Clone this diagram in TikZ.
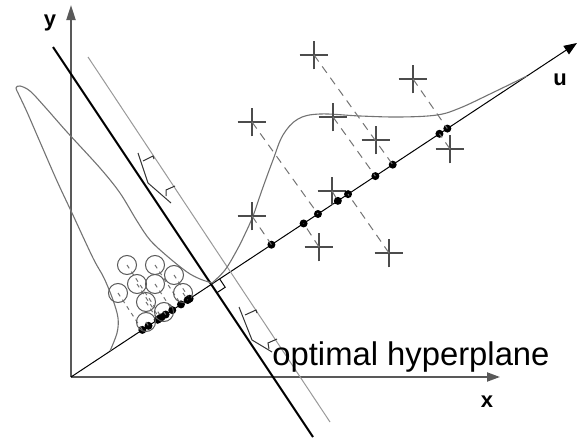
\documentclass[tikz,border=0pt]{standalone}
\usepackage{fontspec}
\setmainfont{Liberation Sans}
\usetikzlibrary{arrows.meta,calc,shapes.misc}

\begin{document}
\begin{tikzpicture}[x=.5pt,y=-.5pt,
  axisline/.style={black!65,line width=1pt},
  dens/.style={black!55,line width=.55pt},
  proj/.style={black!55,line width=.5pt,dash pattern=on 4pt off 3pt},
  plus/.style={cross out,draw=black!70,line width=.6pt,rotate=45,minimum size=9.5pt,inner sep=0pt},
  circ/.style={circle,draw=black!65,line width=.5pt,minimum size=9.5pt,inner sep=0pt},
  dot/.style={circle,fill=black,minimum size=4pt,inner sep=0pt},
  marg/.style={black!80,line width=.5pt},
  lab/.style={font=\fontsize{11}{13}\selectfont\bfseries,anchor=base}]
\useasboundingbox (0,0) rectangle (579,439);
% axes and the u direction
\coordinate (O) at (71,377);
\coordinate (Y) at (71,5);
\coordinate (X) at (500,377);
\coordinate (U) at (577,43);
\draw[axisline,-{Triangle[length=7.5pt,width=4.5pt]}] (O) -- (Y);
\draw[axisline,-{Triangle[length=6.5pt,width=4.5pt]}] (O) -- (X);
\draw[line width=.5pt,-{Triangle[length=6.5pt,width=5pt]}] (O) -- (U);
\node[lab] (ylab) at (50,26) {y};
\node[lab] (xlab) at (487,407) {x};
\node[lab] (ulab) at (560,85) {u};
% hyperplane and margin
\coordinate (H1) at (53,47);
\coordinate (H2) at (313,437);
\coordinate (M1) at (88,57);
\coordinate (M2) at (330,422);
\draw[black!40,line width=.5pt] (M1) -- (M2);
\draw[line width=1pt] (H1) -- (H2);
\coordinate (P) at (intersection of O--U and H1--H2);
\coordinate (ra) at ($(P)!5pt!(U)$);
\coordinate (rb) at ($(P)!5pt!(H2)$);
\draw[line width=.5pt] (ra) -- ($(ra)+(rb)-(P)$) -- (rb);
% class densities along u
\draw[dens] plot[smooth,tension=.55] coordinates {(110,351) (117,333) (118,318) (113,300)
  (104,278) (93,258) (72,213) (57,181) (40,142) (27,112) (19,95) (16,88) (20,86) (30,91)
  (45,107) (67,132) (100,168) (120,193) (137,221) (150,240) (167,256) (187,272) (200,279) (212,283)};
\draw[dens] plot[smooth,tension=.6] coordinates {(212,283) (225,270) (237,250) (245,234)
  (253,216) (262,190) (273,160) (283,135) (298,119) (320,114) (360,116) (400,117) (437,115)
  (460,108) (490,94) (527,76)};
% margin markers
\draw[marg] (138,153) -- (148,183) -- (171,203);
\draw[marg] (143,161) -- (153,156) -- (154,159);
\draw[marg] (166,196) -- (166,190) -- (175,186);
\draw[marg] (239,307) -- (252,340) -- (272,352);
\draw[marg] (245,315) -- (256,310) -- (257,313);
\draw[marg] (269,349) -- (268,343) -- (277,339);
% circle class and its projections
\foreach \x/\y [count=\i] in {127/265,155/265,174/275,137/284,155/284,118/293,183/293,146/302,164/312,146/322}{
  \node[circ] (o\i) at (\x,\y) {};
  \node[dot] (e\i) at ($(O)!(o\i.center)!(U)$) {};
  \draw[proj,dash pattern=on 2pt off 2pt] (o\i.center) -- (e\i.center);
}
% cross class and its projections
\foreach \x/\y [count=\i] in {252/122,314/55,333/117,376/140,413/79,450/149,332/191,252/216,319/247,389/253}
  \node[plus] (c\i) at (\x,\y) {};
\foreach \x/\y [count=\i] in {271/244,304/224,318/214,338/201,348/194,376/177,393/165,439/133,447/128}
  \node[dot] (d\i) at ($(O)!(\x,\y)!(U)$) {};
\foreach \c/\d in {1/3,2/7,3/6,5/9,6/8,7/4,8/1,9/2,10/5}
  \draw[proj] (c\c.center) -- (d\d.center);
\node[anchor=base west,inner sep=0pt,font=\fontsize{16.4}{18}\selectfont] (hyp) at (272,365) {optimal hyperplane};
\end{tikzpicture}
\end{document}
